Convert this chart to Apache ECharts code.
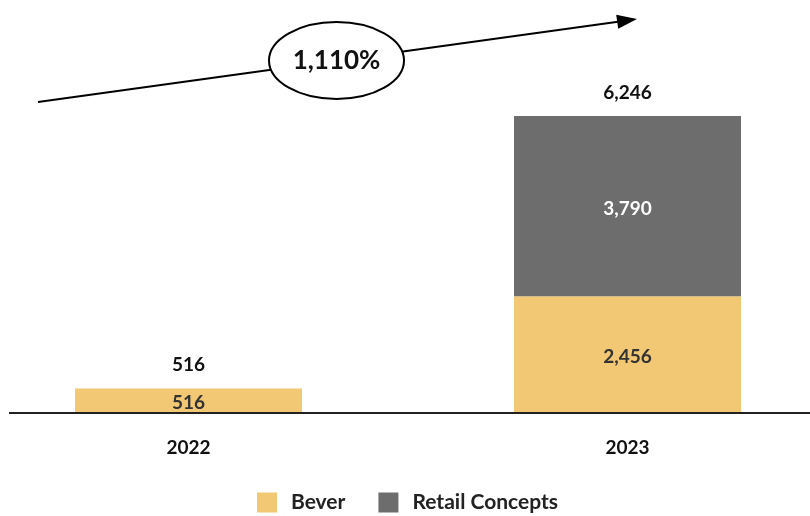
<!DOCTYPE html>
<html><head><meta charset="utf-8">
<script src="https://cdn.jsdelivr.net/npm/echarts@6/dist/echarts.min.js"></script>
<style>html,body{margin:0;padding:0;background:#fff}#c{width:810px;height:516px}</style>
</head><body><div id="c"></div>
<script>
const categories = ['2022', '2023'];
const bever = [516, 2456];
const retail = [null, 3790];
const totals = [516, 6246];
const growthLabel = '1,110%';

const FONT = 'Lato';
const fmt = v => Number(v).toLocaleString('en-US');
const chart = echarts.init(document.getElementById('c'));
chart.setOption({
  animation: false,
  textStyle: { fontFamily: FONT },
  grid: { left: 188.5, right: 182.5, top: 116, bottom: 103 },
  legend: {
    data: ['Bever', 'Retail Concepts'], top: 492, left: 257, padding: 0,
    itemWidth: 20, itemHeight: 20, itemGap: 33, icon: 'rect',
    textStyle: { fontFamily: FONT, fontWeight: 'bold', fontSize: 21, color: '#222', padding: [4, 0, 0, 9] }
  },
  xAxis: {
    type: 'category', data: categories, boundaryGap: false,
    axisLine: { show: false }, axisTick: { show: false },
    axisLabel: { margin: 25, fontFamily: FONT, fontWeight: 'bold', fontSize: 19, color: '#111' }
  },
  yAxis: { type: 'value', min: 0, max: 6246, show: false, splitLine: { show: false } },
  series: [
    { name: 'Bever', type: 'bar', stack: 's', data: bever, barWidth: 227, clip: false,
      itemStyle: { color: '#F2C874' },
      label: { show: true, position: 'inside', offset: [0, 2], formatter: p => fmt(p.value), fontFamily: FONT, fontWeight: 'bold', fontSize: 19, color: '#333' } },
    { name: 'Retail Concepts', type: 'bar', stack: 's', data: retail, barWidth: 227, clip: false,
      itemStyle: { color: '#6D6D6D' },
      label: { show: true, position: 'inside', offset: [0, 3], formatter: p => fmt(p.value), fontFamily: FONT, fontWeight: 'bold', fontSize: 19, color: '#fff' } },
    { name: 'Total', type: 'bar', data: totals, barWidth: 227, barGap: '-100%', clip: false, silent: true, z: 1,
      itemStyle: { color: 'rgba(0,0,0,0)' },
      label: { show: true, position: 'top', distance: 14, formatter: p => fmt(p.value), fontFamily: FONT, fontWeight: 'bold', fontSize: 19, color: '#111' } }
  ],
  graphic: [
    { type: 'line', shape: { x1: 9, y1: 413, x2: 810, y2: 413 }, style: { stroke: '#222', lineWidth: 2 }, z: 10 },
    { type: 'line', shape: { x1: 38, y1: 102, x2: 618, y2: 21.7 }, style: { stroke: '#000', lineWidth: 2 } },
    { type: 'polygon', shape: { points: [[637, 19], [618.2, 28.7], [616.2, 14.8]] }, style: { fill: '#000' } },
    { type: 'ellipse', shape: { cx: 336.5, cy: 60.5, rx: 67.5, ry: 38.5 }, style: { fill: '#fff', stroke: '#000', lineWidth: 2 }, z: 5 },
    { type: 'text', x: 336.5, y: 60.5, z: 6, style: { text: growthLabel, align: 'center', verticalAlign: 'middle', font: 'bold 26px ' + FONT, fill: '#111' } }
  ]
});
</script></body></html>
